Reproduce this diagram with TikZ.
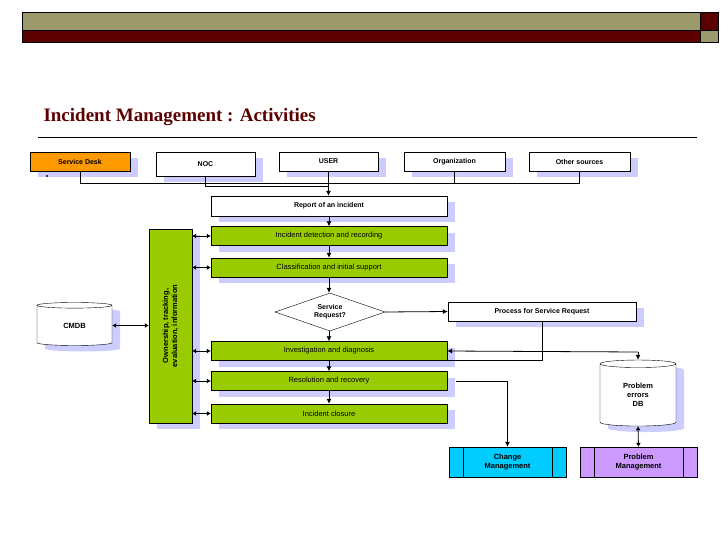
\documentclass[tikz,border=0pt]{standalone}
\usepackage{fontspec}
\setmainfont{Liberation Sans}
\newfontfamily\titlefont{Liberation Serif}
\usetikzlibrary{arrows.meta,shapes.geometric,shadows,positioning}
\definecolor{olivebar}{HTML}{9C9A6A}
\definecolor{maroon}{HTML}{5C0000}
\definecolor{actgreen}{HTML}{99CC00}
\definecolor{deskorange}{HTML}{FF9900}
\definecolor{chgcyan}{HTML}{00CCFF}
\definecolor{prbviolet}{HTML}{CC99FF}
\definecolor{shade}{HTML}{CCCCFF}
\tikzset{
  shad/.style={drop shadow={shadow xshift=8pt,shadow yshift=-6pt,fill=shade,opacity=1}},
  srcbox/.style={draw,fill=white,shad,font=\bfseries\fontsize{7}{8}\selectfont,inner sep=1pt},
  actbox/.style={draw,fill=actgreen,shad,minimum width=236pt,minimum height=19pt,font=\fontsize{7.5}{9}\selectfont,inner sep=0pt},
  mgmtbox/.style={draw,minimum width=117pt,minimum height=30pt,align=center,font=\bfseries\fontsize{7.5}{9}\selectfont,inner sep=0pt},
  dbase/.style={draw,fill=white,shad,cylinder,shape border rotate=90,aspect=0.25,align=center,font=\bfseries\fontsize{7.5}{9}\selectfont,inner sep=0pt},
  arr/.style={-{Latex[length=5pt,width=5pt]},thick},
  twoarr/.style={{Latex[length=4pt,width=5pt]}-{Latex[length=4pt,width=5pt]},thick},
}
\begin{document}
\begin{tikzpicture}[x=1pt,y=-1pt]
  \useasboundingbox (0,0) rectangle (728,546);
  % header bars
  \fill[olivebar] (22,12) rectangle (700,30);
  \fill[maroon] (22,30) rectangle (700,42);
  \fill[maroon] (700,12) rectangle (718,30);
  \fill[olivebar] (700,30) rectangle (718,42);
  \draw (22,12) rectangle (718,42) (22,30) -- (718,30) (700,12) -- (700,42);
  \node[anchor=west,text=maroon,font=\titlefont\bfseries\fontsize{19}{22}\selectfont] (title) at (40,117) {Incident Management : Activities};
  \draw (38,137) -- (697,137);

  % sources
  \node[srcbox,fill=deskorange,minimum width=100pt,minimum height=19pt] (desk) at (80,161.5) {Service Desk};
  \node[srcbox,minimum width=99pt,minimum height=24pt] (noc) at (205.5,164) {NOC};
  \node[srcbox,minimum width=99pt,minimum height=19pt] (user) at (328.5,161.5) {USER};
  \node[srcbox,minimum width=101pt,minimum height=19pt] (org) at (454.5,161.5) {Organization};
  \node[srcbox,minimum width=101pt,minimum height=19pt] (other) at (579.5,161.5) {Other sources};
  \fill (47,176) circle (1.2pt);

  % activities
  \node[srcbox,minimum width=236pt,minimum height=20pt,shad/.style={}] (report) at (329,206) {Report of an incident};
  \node[actbox] (detect) at (329,236) {Incident detection and recording};
  \node[actbox] (classify) at (329,267.5) {Classification and initial support};
  \node[draw,diamond,fill=white,aspect=2.9,inner sep=0pt,minimum width=110pt,minimum height=38pt,align=center,font=\bfseries\fontsize{7}{8}\selectfont] (request) at (330,312) {Service\\Request?};
  \node[actbox] (invest) at (329,351) {Investigation and diagnosis};
  \node[actbox] (resolve) at (329,381) {Resolution and recovery};
  \node[actbox] (closure) at (329,413.5) {Incident closure};
  \node[draw,fill=actgreen,shad,minimum width=43pt,minimum height=194pt] (owner) at (170.5,326) {};
  \node[rotate=90,align=center,font=\bfseries\fontsize{7.5}{9}\selectfont] (ownertext) at (owner) {Ownership, tracking,\\evaluation, information};
  \node[dbase,minimum width=75pt,minimum height=43pt] (cmdb) at (74.5,325.5) {CMDB};
  \node[srcbox,minimum width=188pt,minimum height=19pt,shad/.style={}] (process) at (542,311.5) {Process for Service Request};
  \node[dbase,minimum width=76pt,minimum height=66pt] (pedb) at (638,395) {Problem\\errors\\DB};
  \node[mgmtbox,fill=chgcyan] (change) at (507.5,462) {Change\\Management};
  \node[mgmtbox,fill=prbviolet] (problem) at (638.5,462) {Problem\\Management};
  \foreach \m in {change,problem}{
    \draw ([xshift=14pt]\m.north west) -- ([xshift=14pt]\m.south west)
          ([xshift=-14pt]\m.north east) -- ([xshift=-14pt]\m.south east);
  }

  % connectors
  \draw[thick] (desk.south) -- ++(0,12.5) -| (other.south);
  \draw[thick] (noc.south) -- ++(0,10) -| (user.south);
  \draw[thick] (org.south) -- ++(0,12.5);
  \draw[arr] (user.south) -- (user.south |- report.north);
  \foreach \a/\b in {report/detect,detect/classify,classify/request,request/invest,invest/resolve,resolve/closure}
    \draw[arr] (\a.south -| report.south) -- (\b.north -| report.south);
  \foreach \t in {detect,classify,invest,resolve,closure}
    \draw[twoarr] (owner.east |- \t.west) -- (\t.west);
  \draw[twoarr] (cmdb.east) -- (owner.west |- cmdb.east);
  \draw[arr] (request.east) -- (process.west);
  \draw[thick] (process.south) |- (invest.south east);
  \draw[arr] ([yshift=-1pt]pedb.north |- invest.east) -| (pedb.north);
  \draw[arr] ([yshift=-1pt]pedb.north |- invest.east) -- (invest.east);
  \draw[arr] ([xshift=9pt]resolve.east) -| (change.north);
  \draw[twoarr] (pedb.south) -- (problem.north);
\end{tikzpicture}
\end{document}
